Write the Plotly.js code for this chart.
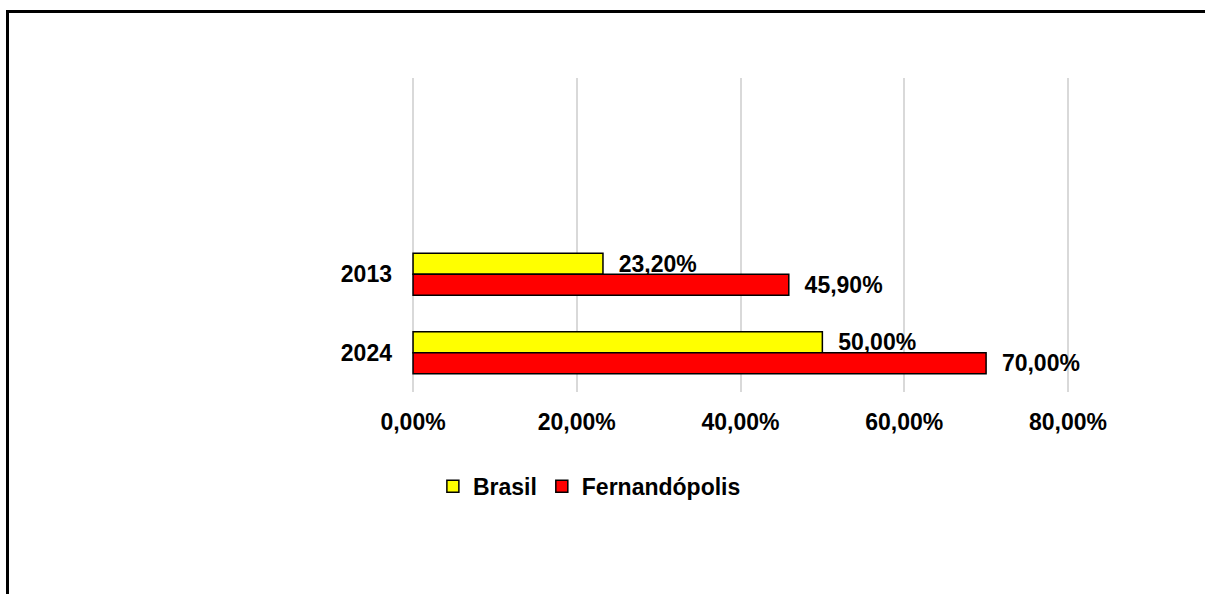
<!DOCTYPE html>
<html>
<head>
<meta charset="utf-8">
<script src="https://cdn.plot.ly/plotly-3.0.1.min.js"></script>
<style>
  html, body { margin: 0; padding: 0; background: #fff; overflow: hidden; }
  #frame { position: absolute; left: 6px; top: 10px; width: 2000px; height: 2000px;
           border-left: 3px solid #000; border-top: 3px solid #000; pointer-events: none; z-index: 5; }
  #chart { width: 1205px; height: 594px; }
</style>
</head>
<body>
<div id="chart"></div>
<div id="frame"></div>
<script>
const categories = ['2013', '2024'];
const seriesNames = ['Brasil', 'Fernandópolis'];
const brasil = [0.232, 0.50];
const fernandopolis = [0.459, 0.70];
const xTicks = [0, 0.2, 0.4, 0.6, 0.8];

const FONT = 'Arial, "Liberation Sans", sans-serif';
const colors = ['#ffff00', '#ff0000'];
const seriesValues = [brasil, fernandopolis];

function fmt(v) { return (v * 100).toFixed(2).replace('.', ',') + '%'; }

const traces = seriesValues.map((vals, i) => ({
  type: 'bar',
  orientation: 'h',
  name: seriesNames[i],
  y: categories,
  x: vals,
  text: vals.map(v => '\u00a0\u00a0' + fmt(v)),
  textposition: 'outside',
  texttemplate: '%{text}',
  constraintext: 'none',
  cliponaxis: false,
  outsidetextfont: { family: FONT, size: 23, color: '#000', weight: 'bold' },
  marker: { color: colors[i], line: { color: '#000', width: 1.5 } },
  hoverinfo: 'none'
}));

const layout = {
  width: 1205, height: 594,
  margin: { l: 411, r: 135, t: 78, b: 202, pad: 0 },
  paper_bgcolor: '#fff', plot_bgcolor: '#fff',
  separators: ',.',
  barmode: 'group',
  bargap: 0.465,
  bargroupgap: 0,
  showlegend: true,
  font: { family: FONT, size: 23, color: '#000', weight: 'bold' },
  xaxis: {
    range: [-0.0025, 0.8025], tickvals: xTicks, tickformat: '.2%',
    showgrid: true, gridcolor: '#d9d9d9', gridwidth: 2,
    zeroline: false, showline: false, ticks: '',
    ticklabelstandoff: 14,
    tickfont: { family: FONT, size: 23, color: '#000', weight: 'bold' },
    fixedrange: true
  },
  yaxis: {
    type: 'category', categoryorder: 'array', categoryarray: categories,
    range: [1.5, -2.5],
    showgrid: false, zeroline: false, showline: false, ticks: '',
    ticklabelstandoff: 18,
    tickfont: { family: FONT, size: 23, color: '#000', weight: 'bold' },
    fixedrange: true
  },
  legend: {
    orientation: 'h', x: 0.0332, xanchor: 'left', y: -0.30, yanchor: 'middle',
    font: { family: FONT, size: 23, color: '#000', weight: 'bold' },
    traceorder: 'normal',
    bgcolor: 'rgba(0,0,0,0)'
  }
};

Plotly.newPlot('chart', traces, layout, { staticPlot: true, displayModeBar: false });
</script>
</body>
</html>
